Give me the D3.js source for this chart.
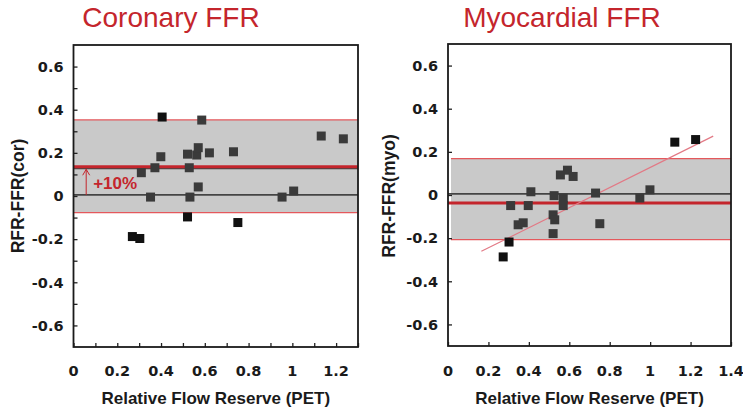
<!DOCTYPE html>
<html>
<head>
<meta charset="utf-8">
<script src="https://cdn.jsdelivr.net/npm/d3@7"></script>
<style>
  body { margin: 0; background: #fff; }
  svg { display: block; }
</style>
</head>
<body>
<div id="chart"></div>
<script>

// Coronary FFR panel: x = relative flow reserve (PET), y = RFR - FFR(cor)
var corX = [0.405, 0.586, 1.132, 1.233, 0.399, 0.521, 0.563, 0.570, 0.621, 0.731, 0.372,
            0.529, 0.310, 0.352, 0.532, 0.570, 0.953, 1.006, 0.521, 0.751, 0.269, 0.303];
var corY = [0.366, 0.352, 0.278, 0.265, 0.182, 0.194, 0.190, 0.224, 0.200, 0.205, 0.131,
            0.131, 0.108, -0.005, -0.005, 0.042, -0.005, 0.023, -0.097, -0.123, -0.188, -0.197];
var corBand = [-0.077, 0.353];
var corBias = 0.136;
var corBiasShadow = 0.127;
var corZero = 0.005;

// Myocardial FFR panel
var myoX = [1.122, 1.225, 0.591, 0.556, 0.619, 0.410, 0.525, 0.570, 0.730, 0.949, 0.999,
            0.310, 0.397, 0.570, 0.520, 0.528, 0.347, 0.372, 0.751, 0.520, 0.302, 0.273];
var myoY = [0.245, 0.257, 0.115, 0.093, 0.086, 0.015, -0.003, -0.015, 0.009, -0.014, 0.024,
            -0.049, -0.049, -0.049, -0.092, -0.115, -0.138, -0.129, -0.133, -0.179, -0.218, -0.287];
var myoBand = [-0.207, 0.169];
var myoBias = -0.037;
var myoZero = 0.005;
var myoRegX = [0.165, 1.312];
var myoRegY = [-0.261, 0.273];

var yTickLabels = [-0.6, -0.4, -0.2, 0, 0.2, 0.4, 0.6];
var corXTickLabels = [0, 0.2, 0.4, 0.6, 0.8, 1, 1.2];
var myoXTickLabels = [0, 0.2, 0.4, 0.6, 0.8, 1, 1.2, 1.4];

var width = 743, height = 410;
var red = '#c4252c';

var svg = d3.select('#chart').append('svg')
		.attr('width', width)
		.attr('height', height);

function fmt(d) {
	return d === 0 ? '0' : String(d);
}

function drawPanel(p) {

	var x = d3.scaleLinear().domain(p.xDomain).range([p.left, p.right]);
	var y = d3.scaleLinear().domain([-0.7, 0.7]).range([p.bottom, p.top]);
	var g = svg.append('g');

	// title
	g.append('text')
		.attr('x', p.titleX)
		.attr('y', 27)
		.attr('font-family', 'Liberation Sans, Arial, sans-serif')
		.attr('font-size', '28px')
		.attr('fill', red)
		.attr('text-anchor', 'middle')
		.text(p.title);

	// limits of agreement band
	g.append('rect')
		.attr('x', x(p.xDomain[0]) + p.bandInset)
		.attr('y', y(p.band[1]))
		.attr('width', x(p.xDomain[1]) - x(p.xDomain[0]) - p.bandInset)
		.attr('height', y(p.band[0]) - y(p.band[1]))
		.attr('fill', '#c9c9c9');

	g.selectAll('line.band-edge')
		.data(p.band)
		.enter().append('line')
		.attr('class', 'band-edge')
		.attr('x1', x(p.xDomain[0]) + p.bandInset)
		.attr('x2', x(p.xDomain[1]))
		.attr('y1', function (d) { return y(d); })
		.attr('y2', function (d) { return y(d); })
		.attr('stroke', '#e4585c')
		.attr('stroke-width', 1.2);

	// zero line
	g.append('line')
		.attr('x1', x(p.xDomain[0])).attr('x2', x(p.xDomain[1]))
		.attr('y1', y(p.zero)).attr('y2', y(p.zero))
		.attr('stroke', '#444')
		.attr('stroke-width', 1.6);

	if (p.biasShadow !== undefined) {
		g.append('line')
			.attr('x1', x(p.xDomain[0])).attr('x2', x(p.xDomain[1]))
			.attr('y1', y(p.biasShadow)).attr('y2', y(p.biasShadow))
			.attr('stroke', '#444')
			.attr('stroke-width', 1.4);
	}

	// mean difference
	g.append('line')
		.attr('x1', x(p.xDomain[0])).attr('x2', x(p.xDomain[1]))
		.attr('y1', y(p.bias)).attr('y2', y(p.bias))
		.attr('stroke', red)
		.attr('stroke-width', 3);

	// regression line
	if (p.regX) {
		g.append('line')
			.attr('x1', x(p.regX[0])).attr('y1', y(p.regY[0]))
			.attr('x2', x(p.regX[1])).attr('y2', y(p.regY[1]))
			.attr('stroke', '#e27985')
			.attr('stroke-width', 1.2);
	}

	// +10% annotation
	if (p.arrow) {
		var ax = x(p.arrow.x);
		g.append('line')
			.attr('x1', ax).attr('x2', ax)
			.attr('y1', y(p.arrow.from)).attr('y2', y(p.arrow.to))
			.attr('stroke', red).attr('stroke-width', 1);
		g.append('path')
			.attr('d', 'M' + (ax - 3.5) + ',' + (y(p.arrow.to) + 6) + 'L' + ax + ',' + y(p.arrow.to) + 'L' + (ax + 3.5) + ',' + (y(p.arrow.to) + 6))
			.attr('fill', 'none')
			.attr('stroke', red).attr('stroke-width', 1);
		g.append('text')
			.attr('x', ax + 7)
			.attr('y', 189)
			.attr('font-family', 'Liberation Sans, Arial, sans-serif')
			.attr('font-weight', 'bold')
			.attr('font-size', '17px')
			.attr('fill', red)
			.text(p.arrow.label);
	}

	// points
	var pts = p.xs.map(function (d, i) { return [d, p.ys[i]]; });
	g.selectAll('rect.pt')
		.data(pts)
		.enter().append('rect')
		.attr('class', 'pt')
		.attr('x', function (d) { return x(d[0]) - 4.5; })
		.attr('y', function (d) { return y(d[1]) - 4.5; })
		.attr('width', 9)
		.attr('height', 9)
		.attr('fill', function (d) {
			return (d[1] > p.band[0] && d[1] < p.band[1]) ? '#3a3a3a' : '#111';
		});

	// axes with inward ticks
	var yAxis = d3.axisLeft(y)
			.tickValues(d3.range(-6, 7, p.yMinor).map(function (d) { return d / 10; }))
			.tickSize(-4)
			.tickFormat('');
	g.append('g')
		.attr('transform', 'translate(' + p.left + ',0)')
		.call(yAxis)
		.call(function (s) {
			s.select('.domain').remove();
			s.selectAll('line').attr('stroke', '#222').attr('stroke-width', 1.3);
		});

	var xAxis = d3.axisBottom(x)
			.tickValues(d3.range(0, Math.round(p.xDomain[1] * 10) + 1, p.xMinor).map(function (d) { return d / 10; }))
			.tickSize(-4)
			.tickFormat('');
	g.append('g')
		.attr('transform', 'translate(0,' + p.bottom + ')')
		.call(xAxis)
		.call(function (s) {
			s.select('.domain').remove();
			s.selectAll('line').attr('stroke', '#222').attr('stroke-width', 1.3);
		});

	// frame
	g.append('rect')
		.attr('x', p.left).attr('y', p.top)
		.attr('width', p.right - p.left).attr('height', p.bottom - p.top)
		.attr('fill', 'none')
		.attr('stroke', '#1a1a1a')
		.attr('stroke-width', 1.8);

	// tick labels
	g.selectAll('text.ylab')
		.data(yTickLabels)
		.enter().append('text')
		.attr('class', 'ylab')
		.attr('x', p.left - 10)
		.attr('y', function (d) { return y(d); })
		.attr('dy', '0.36em')
		.attr('text-anchor', 'end')
		.attr('font-family', 'DejaVu Sans, sans-serif')
		.attr('font-weight', 'bold')
		.attr('font-size', '14.5px')
		.attr('fill', '#1a1a1a')
		.text(fmt);

	g.selectAll('text.xlab')
		.data(p.xTickLabels)
		.enter().append('text')
		.attr('class', 'xlab')
		.attr('x', function (d) { return x(d); })
		.attr('y', 376)
		.attr('text-anchor', 'middle')
		.attr('font-family', 'DejaVu Sans, sans-serif')
		.attr('font-weight', 'bold')
		.attr('font-size', '14.5px')
		.attr('fill', '#1a1a1a')
		.text(fmt);

	// axis titles
	g.append('text')
		.attr('x', (p.left + p.right) / 2)
		.attr('y', 404)
		.attr('text-anchor', 'middle')
		.attr('font-family', 'Liberation Sans, Arial, sans-serif')
		.attr('font-weight', 'bold')
		.attr('font-size', '17px')
		.attr('fill', '#1a1a1a')
		.text('Relative Flow Reserve (PET)');

	g.append('text')
		.attr('transform', 'translate(' + p.yTitleX + ',196) rotate(-90)')
		.attr('text-anchor', 'middle')
		.attr('font-family', 'Liberation Sans, Arial, sans-serif')
		.attr('font-weight', 'bold')
		.attr('font-size', '17.5px')
		.attr('fill', '#1a1a1a')
		.text(p.yTitle);
}

drawPanel({
	title: 'Coronary FFR', titleX: 171,
	left: 73.5, right: 358, top: 45, bottom: 347,
	xDomain: [0, 1.3], xMinor: 1, yMinor: 1,
	xs: corX, ys: corY,
	band: corBand, bias: corBias, biasShadow: corBiasShadow, zero: corZero, bandInset: 0,
	xTickLabels: corXTickLabels,
	yTitle: 'RFR-FFR(cor)', yTitleX: 24,
	arrow: { x: 0.058, from: corZero, to: corBias - 0.012, label: '+10%' }
});

drawPanel({
	title: 'Myocardial FFR', titleX: 562,
	left: 448, right: 731, top: 44, bottom: 346,
	xDomain: [0, 1.4], xMinor: 2, yMinor: 2,
	xs: myoX, ys: myoY,
	band: myoBand, bias: myoBias, zero: myoZero, bandInset: 3,
	regX: myoRegX, regY: myoRegY,
	xTickLabels: myoXTickLabels,
	yTitle: 'RFR-FFR(myo)', yTitleX: 395
});

</script>
</body>
</html>
